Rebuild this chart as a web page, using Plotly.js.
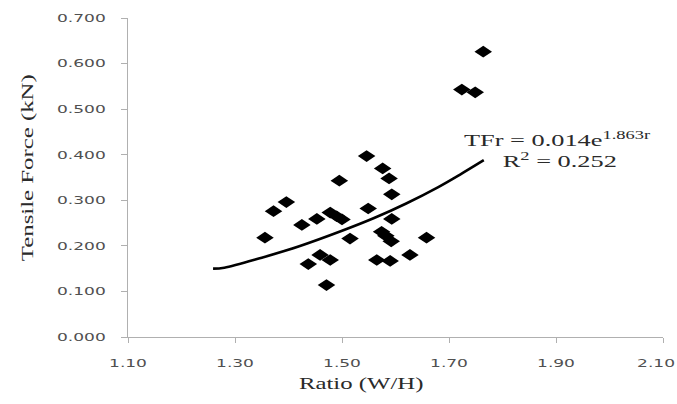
<!DOCTYPE html>
<html><head><meta charset="utf-8">
<script src="https://cdn.plot.ly/plotly-3.0.1.min.js"></script>
<style>html,body{margin:0;padding:0;background:#fff}#chart{width:677px;height:404px}</style>
</head><body><div id="chart"></div>
<script>
const ratio = [1.356,1.372,1.396,1.425,1.437,1.453,1.459,1.471,1.478,1.478,1.490,1.500,1.495,1.515,1.546,1.549,1.565,1.574,1.582,1.592,1.576,1.588,1.593,1.593,1.590,1.627,1.658,1.724,1.749,1.764];
const force = [0.218,0.276,0.296,0.246,0.160,0.259,0.180,0.114,0.169,0.273,0.265,0.258,0.343,0.216,0.397,0.282,0.169,0.231,0.222,0.210,0.370,0.348,0.313,0.259,0.167,0.180,0.218,0.543,0.537,0.626];
const trendX = [1.259,1.28,1.35,1.42,1.50,1.56,1.62,1.68,1.72,1.765];
const trendY = [0.150,0.152,0.174,0.199,0.233,0.261,0.293,0.329,0.356,0.388];
const xTicks = [1.10,1.30,1.50,1.70,1.90,2.10];
const yTicks = [0,0.1,0.2,0.3,0.4,0.5,0.6,0.7];
const xTitle = 'Ratio (W/H)';
const yTitle = 'Tensile Force (kN)';
const eqText = 'TFr = 0.014e<sup>1.863r</sup>';
const r2Text = 'R<sup>2</sup> = 0.252';

const W = 677, H = 404, L = 128, R = 14, T = 18, B = 67;
const pw = W - L - R, ph = H - T - B;
const STRETCH = 1.55;

const traces = [
  {x: ratio, y: force, mode:'markers', type:'scatter',
   marker:{symbol:'diamond', size:9, color:'#000'}},
  {x: trendX, y: trendY, mode:'lines', type:'scatter',
   line:{color:'#000', width:2.6, shape:'spline', smoothing:1}}
];
const tickFont = {family:'DejaVu Sans', size:11, color:'#505050'};
const serif = 'Liberation Serif';
function ann(px, py, text, size, angle){
  return {xref:'paper', yref:'paper', x:(px-L)/pw, y:(H-py-B)/ph, showarrow:false,
    xanchor:'center', yanchor:'middle', textangle:angle||0,
    text:text, font:{family:serif, size:size, color:'#2a2a2a'}};
}
const layout = {
  width:W, height:H, showlegend:false,
  paper_bgcolor:'#fff', plot_bgcolor:'#fff',
  margin:{l:L, r:R, t:T, b:B},
  xaxis:{range:[1.10,2.10], tickvals:xTicks, ticktext:xTicks.map(v=>v.toFixed(2)),
    showgrid:false, zeroline:false, showline:true, linecolor:'#b0b0b0', linewidth:1,
    ticks:'outside', ticklen:5, tickcolor:'#b0b0b0', tickfont:tickFont, ticklabelstandoff:11},
  yaxis:{range:[0,0.7], tickvals:yTicks, ticktext:yTicks.map(v=>v.toFixed(3)),
    showgrid:false, zeroline:false, showline:true, linecolor:'#b0b0b0', linewidth:1,
    ticks:'outside', ticklen:6, tickcolor:'#b0b0b0', tickfont:tickFont, ticklabelstandoff:13},
  annotations:[
    ann(361, 384, xTitle, 16),
    ann(28, 168, yTitle, 16, -90),
    ann(557, 139, eqText, 17),
    ann(560, 160, r2Text, 17)
  ]
};
Plotly.newPlot('chart', traces, layout, {displayModeBar:false, staticPlot:true}).then(gd => {
  // reproduce the horizontally stretched look of the reference image
  function stretch(el, anchor, maxRight){
    const bb = el.getBBox();
    if (!bb.width) return;
    const pm = el.parentNode.getCTM();
    const m = pm.inverse().multiply(el.getCTM());
    const pts = [[bb.x,bb.y],[bb.x+bb.width,bb.y],[bb.x,bb.y+bb.height],[bb.x+bb.width,bb.y+bb.height]]
      .map(p => new DOMPoint(p[0],p[1]).matrixTransform(m));
    const xs = pts.map(p=>p.x);
    const minX = Math.min(...xs), maxX = Math.max(...xs);
    const cx = anchor === 'right' ? maxX : (minX+maxX)/2;
    let shift = 0;
    if (maxRight !== undefined) {
      const right = cx + (maxX - cx) * STRETCH + pm.e;
      if (right > maxRight) shift = maxRight - right;
    }
    const old = el.getAttribute('transform') || '';
    el.setAttribute('transform', `translate(${cx+shift},0) scale(${STRETCH},1) translate(${-cx},0) ${old}`);
  }
  gd.querySelectorAll('.xtick text').forEach(t => stretch(t,'center', W-2));
  gd.querySelectorAll('.ytick text').forEach(t => stretch(t,'right'));
  gd.querySelectorAll('.annotation-text').forEach(t => stretch(t,'center'));
  gd.querySelectorAll('.scatterlayer path.point').forEach(p => {
    const old = p.getAttribute('transform') || '';
    p.setAttribute('transform', old + ' scale(1.5,1)');
  });
});
</script></body></html>
